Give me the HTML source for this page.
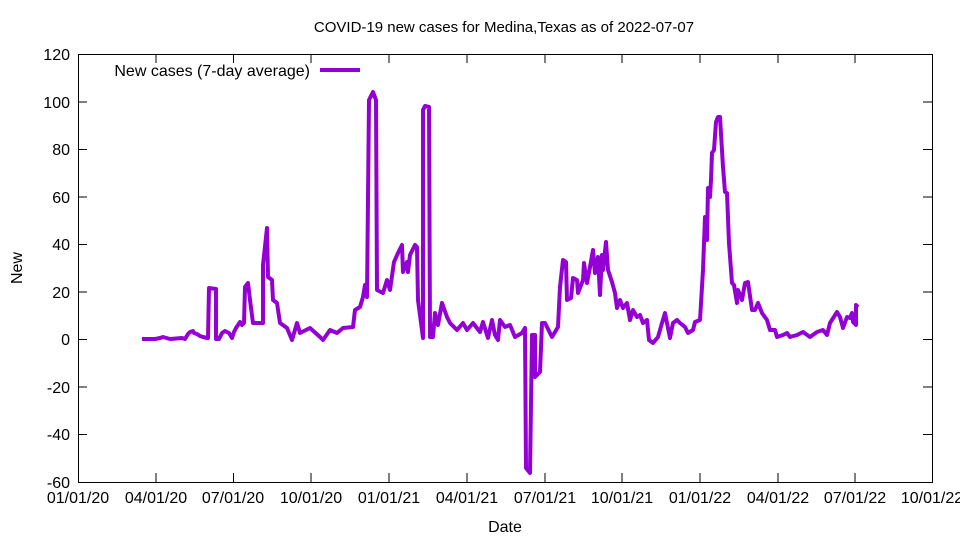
<!DOCTYPE html>
<html><head><meta charset="utf-8"><style>body{margin:0;background:#fff}svg{display:block}</style></head><body>
<svg width="960" height="540" viewBox="0 0 960 540" xmlns="http://www.w3.org/2000/svg" font-family="Liberation Sans, sans-serif" font-size="16">
<rect width="960" height="540" fill="#fff"/>
<text x="504" y="32" text-anchor="middle" font-size="15">COVID-19 new cases for Medina,Texas as of 2022-07-07</text>
<g stroke="#000" stroke-width="1" fill="none">
<rect x="78.5" y="54.5" width="854" height="428"/>
<path d="M78 54.5h9M932 54.5h-9M78 102h9M932 102h-9M78 149.5h9M932 149.5h-9M78 197h9M932 197h-9M78 244.5h9M932 244.5h-9M78 292h9M932 292h-9M78 339.5h9M932 339.5h-9M78 387h9M932 387h-9M78 434.5h9M932 434.5h-9"/>
<path d="M156 482v-9M156 54v9M233.5 482v-9M233.5 54v9M311 482v-9M311 54v9M389 482v-9M389 54v9M467 482v-9M467 54v9M545 482v-9M545 54v9M622 482v-9M622 54v9M700 482v-9M700 54v9M778 482v-9M778 54v9M855 482v-9M855 54v9"/>
</g>
<g text-anchor="end">
<text x="70" y="60">120</text><text x="70" y="108">100</text><text x="70" y="155">80</text><text x="70" y="203">60</text><text x="70" y="250">40</text><text x="70" y="298">20</text><text x="70" y="345">0</text><text x="70" y="393">-20</text><text x="70" y="440">-40</text><text x="70" y="488">-60</text>
</g>
<g text-anchor="middle">
<text x="78" y="503">01/01/20</text><text x="156" y="503">04/01/20</text><text x="233" y="503">07/01/20</text><text x="311" y="503">10/01/20</text><text x="389" y="503">01/01/21</text><text x="467" y="503">04/01/21</text><text x="545" y="503">07/01/21</text><text x="622" y="503">10/01/21</text><text x="700" y="503">01/01/22</text><text x="778" y="503">04/01/22</text><text x="855" y="503">07/01/22</text><text x="932" y="503">10/01/22</text>
<text x="505" y="532">Date</text>
</g>
<text x="22" y="268" text-anchor="middle" transform="rotate(-90 22 268)">New</text>
<text x="310" y="76" text-anchor="end">New cases (7-day average)</text>
<g stroke="#9400d3" stroke-width="4" fill="none" stroke-linejoin="round">
<path d="M320 70h40"/>
<polyline points="142,339 155,339 160,338 163,337 170,339 182,338 185,339 188,334 190,332 193,331 194,333 197,334 200,336 203,337 207,338 208,338 209,288 216,289 216,339 219,339 222,333 225,331 229,333 232,338 234,332 236,328 240,322 242,325 244,323 245,287 248,283 250,300 253,323 258,323 263,323 263,265 267,228 268,277 272,280 273,300 277,303 280,323 287,328 292,340 297,323 300,333 310,328 320,337 323,340 330,330 337,333 343,328 353,327 355,310 360,307 363,297 365,285 367,297 369,100 373,92 376,100 377,290 383,293 387,280 390,290 394,262 398,253 402,245 403,272 407,262 408,272 410,255 415,245 417,247 418,300 423,338 423,110 425,106 429,107 430,337 433,337 435,313 438,325 442,303 447,317 450,323 457,330 463,323 467,330 473,323 480,332 483,322 488,338 492,320 495,335 498,340 500,320 505,327 510,325 515,337 522,333 525,328 526,468 530,473 532,335 535,335 535,377 540,372 542,323 545,323 552,337 558,327 560,287 563,260 566,262 567,300 571,298 573,278 577,280 578,293 583,280 584,263 587,283 590,267 593,250 595,273 598,257 600,295 602,255 603,270 606,242 608,270 612,282 615,293 617,308 620,300 623,308 627,303 630,320 633,310 637,317 640,315 643,323 647,320 649,340 653,343 658,337 662,323 665,313 670,338 673,323 677,320 680,323 685,327 688,333 693,330 695,322 700,320 703,270 705,217 707,240 708,188 710,197 711,180 712,153 714,150 716,122 718,117 720,117 723,167 725,192 727,193 729,243 732,283 734,285 737,303 738,290 742,300 745,283 748,282 752,310 755,310 758,303 762,313 767,320 770,330 775,330 777,337 783,335 787,333 790,337 797,335 803,332 810,337 817,332 823,330 827,335 830,323 837,312 840,317 843,328 847,317 850,318 852,313 853,322 856,325 856,305 858,307"/>
</g>
</svg>
</body></html>
